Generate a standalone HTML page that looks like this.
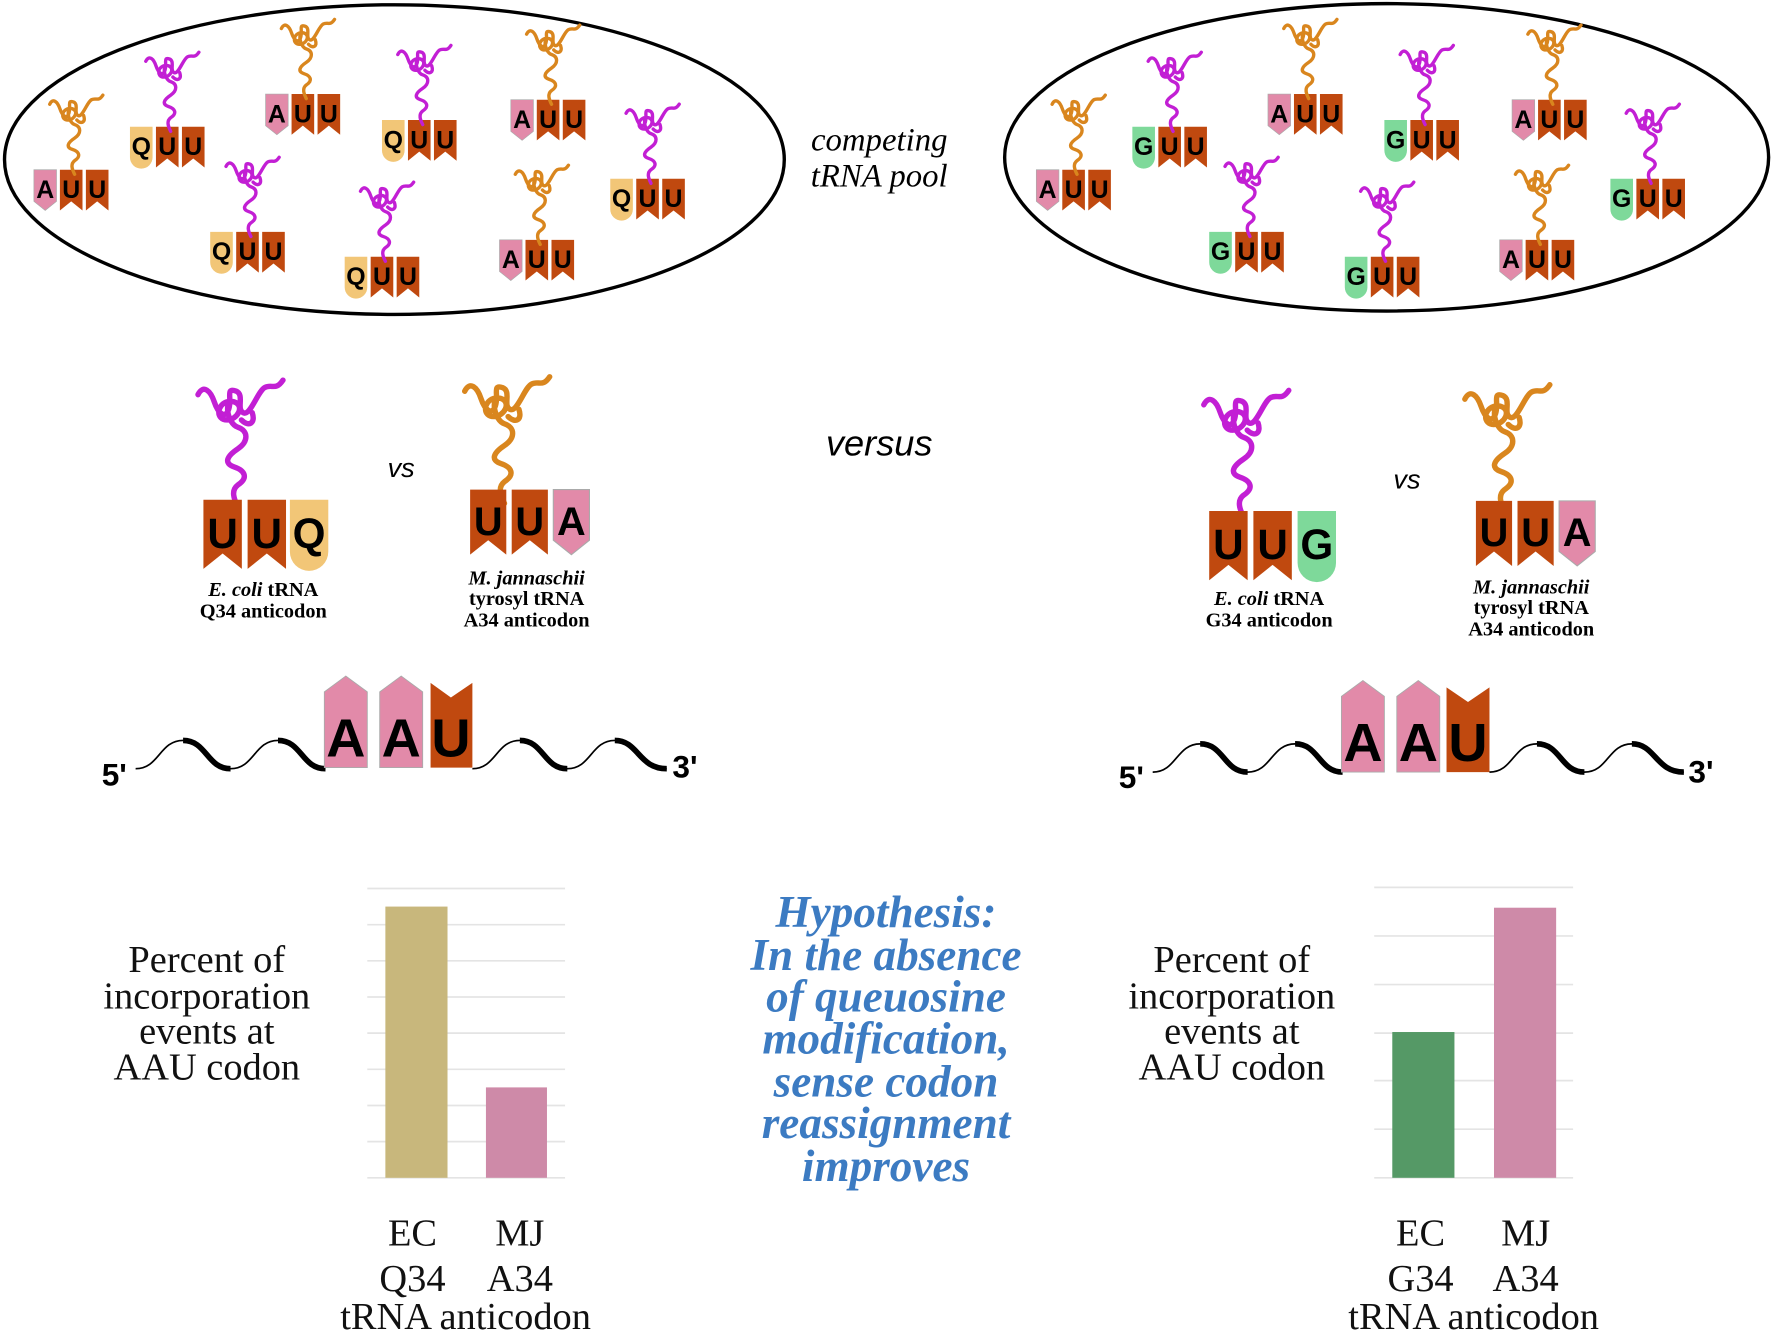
<!DOCTYPE html>
<html><head><meta charset="utf-8"><style>
html,body{margin:0;padding:0;background:#fff;}
svg{display:block;}
.tl{font-family:"Liberation Sans",sans-serif;font-weight:bold;font-size:22px;text-anchor:middle;fill:#000;}
.lab{font-family:"Liberation Serif",serif;font-weight:bold;font-size:18px;text-anchor:middle;}
.ser{font-family:"Liberation Serif",serif;font-size:34px;text-anchor:middle;fill:#111;}
.hyp{font-family:"Liberation Serif",serif;font-weight:bold;font-style:italic;font-size:40px;text-anchor:middle;fill:#3c7bc2;}
</style></head><body>
<svg width="1772" height="1334" viewBox="0 0 1568 1180" xmlns="http://www.w3.org/2000/svg" xmlns:xlink="http://www.w3.org/1999/xlink">
<defs>
<g id="tU"><path d="M0,0H20V36L10,28L0,36Z" fill="#c0490f"/><text class="tl" x="10" y="25">U</text></g>
<g id="tA"><path d="M0,0H20V28L10,36L0,28Z" fill="#e28aa9" stroke="#aaa" stroke-width="0.6"/><text class="tl" x="10" y="25">A</text></g>
<g id="tQ"><path d="M0,0H20V27A10,10 0 0 1 0,27Z" fill="#f2c677"/><text class="tl" x="10" y="25">Q</text></g>
<g id="tG"><path d="M0,0H20V27A10,10 0 0 1 0,27Z" fill="#7ed99a"/><text class="tl" x="10" y="25">G</text></g>
<path id="sq" d="M2,10 c3,-6 7,-2 9,4 c2,6 6,10 8,4 c2,-6 -2,-12 4,-10 c5,2 0,10 4,12 c4,2 8,-12 12,-14 c4,-2 6,2 10,-4 M18,14 c-6,2 -6,10 0,10 c6,0 10,-8 4,-10 c-6,-2 -4,12 2,14 c6,2 6,8 0,12 c-6,4 -8,8 -2,10 c6,2 8,6 2,10 c-4,3 -2,8 0,12 M26,24 c4,4 8,2 6,-4" fill="none" stroke-width="3" stroke-linecap="round" stroke-linejoin="round"/>
<g id="trP"><use xlink:href="#sq" stroke="#c21fd4"/></g>
<g id="trO"><use xlink:href="#sq" stroke="#d9861e"/></g>
<g id="AUU"><use xlink:href="#tA" x="0"/><use xlink:href="#tU" x="23"/><use xlink:href="#tU" x="46"/></g>
<g id="QUU"><use xlink:href="#tQ" x="0"/><use xlink:href="#tU" x="23"/><use xlink:href="#tU" x="46"/></g>
<g id="GUU"><use xlink:href="#tG" x="0"/><use xlink:href="#tU" x="23"/><use xlink:href="#tU" x="46"/></g>
</defs>

<ellipse cx="349" cy="141" rx="345" ry="137" fill="none" stroke="#000" stroke-width="3"/>
<ellipse cx="1227" cy="139" rx="338" ry="136" fill="none" stroke="#000" stroke-width="3"/>

<use xlink:href="#AUU" x="30" y="150"/><use xlink:href="#trO" x="42" y="82"/>
<use xlink:href="#QUU" x="115" y="112"/><use xlink:href="#trP" x="127" y="44"/>
<use xlink:href="#AUU" x="235" y="83"/><use xlink:href="#trO" x="247" y="15"/>
<use xlink:href="#QUU" x="338" y="106"/><use xlink:href="#trP" x="350" y="38"/>
<use xlink:href="#AUU" x="452" y="88"/><use xlink:href="#trO" x="464" y="20"/>
<use xlink:href="#QUU" x="540" y="158"/><use xlink:href="#trP" x="552" y="90"/>
<use xlink:href="#QUU" x="186" y="205"/><use xlink:href="#trP" x="198" y="137"/>
<use xlink:href="#QUU" x="305" y="227"/><use xlink:href="#trP" x="317" y="159"/>
<use xlink:href="#AUU" x="442" y="212"/><use xlink:href="#trO" x="454" y="144"/>

<use xlink:href="#AUU" x="917" y="150"/><use xlink:href="#trO" x="929" y="82"/>
<use xlink:href="#GUU" x="1002" y="112"/><use xlink:href="#trP" x="1014" y="44"/>
<use xlink:href="#AUU" x="1122" y="83"/><use xlink:href="#trO" x="1134" y="15"/>
<use xlink:href="#GUU" x="1225" y="106"/><use xlink:href="#trP" x="1237" y="38"/>
<use xlink:href="#AUU" x="1338" y="88"/><use xlink:href="#trO" x="1350" y="20"/>
<use xlink:href="#GUU" x="1425" y="158"/><use xlink:href="#trP" x="1437" y="90"/>
<use xlink:href="#GUU" x="1070" y="205"/><use xlink:href="#trP" x="1082" y="137"/>
<use xlink:href="#GUU" x="1190" y="227"/><use xlink:href="#trP" x="1202" y="159"/>
<use xlink:href="#AUU" x="1327" y="212"/><use xlink:href="#trO" x="1339" y="144"/>

<text x="778" y="133" font-family="Liberation Serif,serif" font-style="italic" font-size="29" text-anchor="middle">competing</text>
<text x="778" y="165" font-family="Liberation Serif,serif" font-style="italic" font-size="29" text-anchor="middle">tRNA pool</text>

<g transform="translate(172,333) scale(1.6)"><use xlink:href="#trP"/></g>
<g transform="translate(180,442) scale(1.7)"><use xlink:href="#tU" x="0"/><use xlink:href="#tU" x="23"/><use xlink:href="#tQ" x="45"/></g>
<text x="355" y="422" font-family="Liberation Sans,sans-serif" font-style="italic" font-size="24" text-anchor="middle">vs</text>
<g transform="translate(408,330) scale(1.6)"><use xlink:href="#trO"/></g>
<g transform="translate(416,433) scale(1.6)"><use xlink:href="#tU" x="0"/><use xlink:href="#tU" x="23"/><use xlink:href="#tA" x="46"/></g>
<text class="lab" x="233" y="527"><tspan font-style="italic">E. coli</tspan> tRNA</text>
<text class="lab" x="233" y="546">Q34 anticodon</text>
<text class="lab" x="466" y="517" font-style="italic">M. jannaschii</text>
<text class="lab" x="466" y="535">tyrosyl tRNA</text>
<text class="lab" x="466" y="554">A34 anticodon</text>

<text x="778" y="403" font-family="Liberation Sans,sans-serif" font-style="italic" font-size="32" text-anchor="middle">versus</text>

<g transform="translate(1062,342) scale(1.6)"><use xlink:href="#trP"/></g>
<g transform="translate(1070,452) scale(1.7)"><use xlink:href="#tU" x="0"/><use xlink:href="#tU" x="23"/><use xlink:href="#tG" x="46"/></g>
<text x="1245" y="432" font-family="Liberation Sans,sans-serif" font-style="italic" font-size="24" text-anchor="middle">vs</text>
<g transform="translate(1293,337) scale(1.6)"><use xlink:href="#trO"/></g>
<g transform="translate(1306,443) scale(1.6)"><use xlink:href="#tU" x="0"/><use xlink:href="#tU" x="23"/><use xlink:href="#tA" x="46"/></g>
<text class="lab" x="1123" y="535"><tspan font-style="italic">E. coli</tspan> tRNA</text>
<text class="lab" x="1123" y="554">G34 anticodon</text>
<text class="lab" x="1355" y="525" font-style="italic">M. jannaschii</text>
<text class="lab" x="1355" y="543">tyrosyl tRNA</text>
<text class="lab" x="1355" y="562">A34 anticodon</text>

<g fill="none" stroke="#000">
<path d="M120,680 C141,680 141,655 162,655 C183,655 183,680 204,680 C225,680 225,655 246,655 C267,655 267,680 288,680" stroke-width="1.5"/>
<path d="M162,655 C183,655 183,680 204,680 M246,655 C267,655 267,680 288,680" stroke-width="5"/>
<path d="M418,680 C439,680 439,655 460,655 C481,655 481,680 502,680 C523,680 523,655 544,655 C565,655 565,680 590,680" stroke-width="1.5"/>
<path d="M460,655 C481,655 481,680 502,680 M544,655 C565,655 565,680 590,680" stroke-width="5"/>
<path d="M1020,683 C1041,683 1041,658 1062,658 C1083,658 1083,683 1104,683 C1125,683 1125,658 1146,658 C1167,658 1167,683 1188,683" stroke-width="1.5"/>
<path d="M1062,658 C1083,658 1083,683 1104,683 M1146,658 C1167,658 1167,683 1188,683" stroke-width="5"/>
<path d="M1318,683 C1339,683 1339,658 1360,658 C1381,658 1381,683 1402,683 C1423,683 1423,658 1444,658 C1465,658 1465,683 1490,683" stroke-width="1.5"/>
<path d="M1360,658 C1381,658 1381,683 1402,683 M1444,658 C1465,658 1465,683 1490,683" stroke-width="5"/>
</g>
<g font-family="Liberation Sans,sans-serif" font-weight="bold" font-size="48" text-anchor="middle">
<path d="M287,612 L306,598 L325,612 V679 H287Z" fill="#e28aa9" stroke="#aaa" stroke-width="0.8"/>
<path d="M336,612 L355,598 L374,612 V679 H336Z" fill="#e28aa9" stroke="#aaa" stroke-width="0.8"/>
<path d="M381,604 L399,617 L418,604 V679 H381Z" fill="#c0490f"/>
<text x="306" y="669">A</text><text x="355" y="669">A</text><text x="399" y="669">U</text>
<path d="M1187,616 L1206,602 L1225,616 V683 H1187Z" fill="#e28aa9" stroke="#aaa" stroke-width="0.8"/>
<path d="M1236,616 L1255,602 L1274,616 V683 H1236Z" fill="#e28aa9" stroke="#aaa" stroke-width="0.8"/>
<path d="M1280,608 L1299,621 L1318,608 V683 H1280Z" fill="#c0490f"/>
<text x="1206" y="673">A</text><text x="1255" y="673">A</text><text x="1299" y="673">U</text>
</g>
<g font-family="Liberation Sans,sans-serif" font-weight="bold" font-size="28">
<text x="90" y="695">5'</text><text x="595" y="688">3'</text>
<text x="990" y="697">5'</text><text x="1494" y="692">3'</text>
</g>

<g stroke="#e4e4e4" stroke-width="1.5">
<line x1="325" y1="786" x2="500" y2="786"/><line x1="325" y1="818" x2="500" y2="818"/><line x1="325" y1="850" x2="500" y2="850"/><line x1="325" y1="882" x2="500" y2="882"/><line x1="325" y1="914" x2="500" y2="914"/><line x1="325" y1="946" x2="500" y2="946"/><line x1="325" y1="978" x2="500" y2="978"/><line x1="325" y1="1010" x2="500" y2="1010"/><line x1="325" y1="1042" x2="500" y2="1042"/>
<line x1="1216" y1="785" x2="1392" y2="785"/><line x1="1216" y1="828" x2="1392" y2="828"/><line x1="1216" y1="871" x2="1392" y2="871"/><line x1="1216" y1="914" x2="1392" y2="914"/><line x1="1216" y1="956" x2="1392" y2="956"/><line x1="1216" y1="999" x2="1392" y2="999"/><line x1="1216" y1="1042" x2="1392" y2="1042"/>
</g>
<rect x="341" y="802" width="55" height="240" fill="#c8b77c"/>
<rect x="430" y="962" width="54" height="80" fill="#ce8aa8"/>
<rect x="1232" y="913" width="55" height="129" fill="#559966"/>
<rect x="1322" y="803" width="55" height="239" fill="#ce8aa8"/>

<g class="ser">
<text x="183" y="860">Percent of</text><text x="183" y="892">incorporation</text><text x="183" y="923">events at</text><text x="183" y="955">AAU codon</text>
<text x="365" y="1102">EC</text><text x="460" y="1102">MJ</text><text x="365" y="1142">Q34</text><text x="460" y="1142">A34</text><text x="412" y="1176">tRNA anticodon</text>
<text x="1090" y="860">Percent of</text><text x="1090" y="892">incorporation</text><text x="1090" y="923">events at</text><text x="1090" y="955">AAU codon</text>
<text x="1257" y="1102">EC</text><text x="1350" y="1102">MJ</text><text x="1257" y="1142">G34</text><text x="1350" y="1142">A34</text><text x="1304" y="1176">tRNA anticodon</text>
</g>

<g class="hyp">
<text x="784" y="820">Hypothesis:</text>
<text x="784" y="858">In the absence</text>
<text x="784" y="895">of queuosine</text>
<text x="784" y="932">modification,</text>
<text x="784" y="970">sense codon</text>
<text x="784" y="1007">reassignment</text>
<text x="784" y="1045">improves</text>
</g>
</svg>
</body></html>
